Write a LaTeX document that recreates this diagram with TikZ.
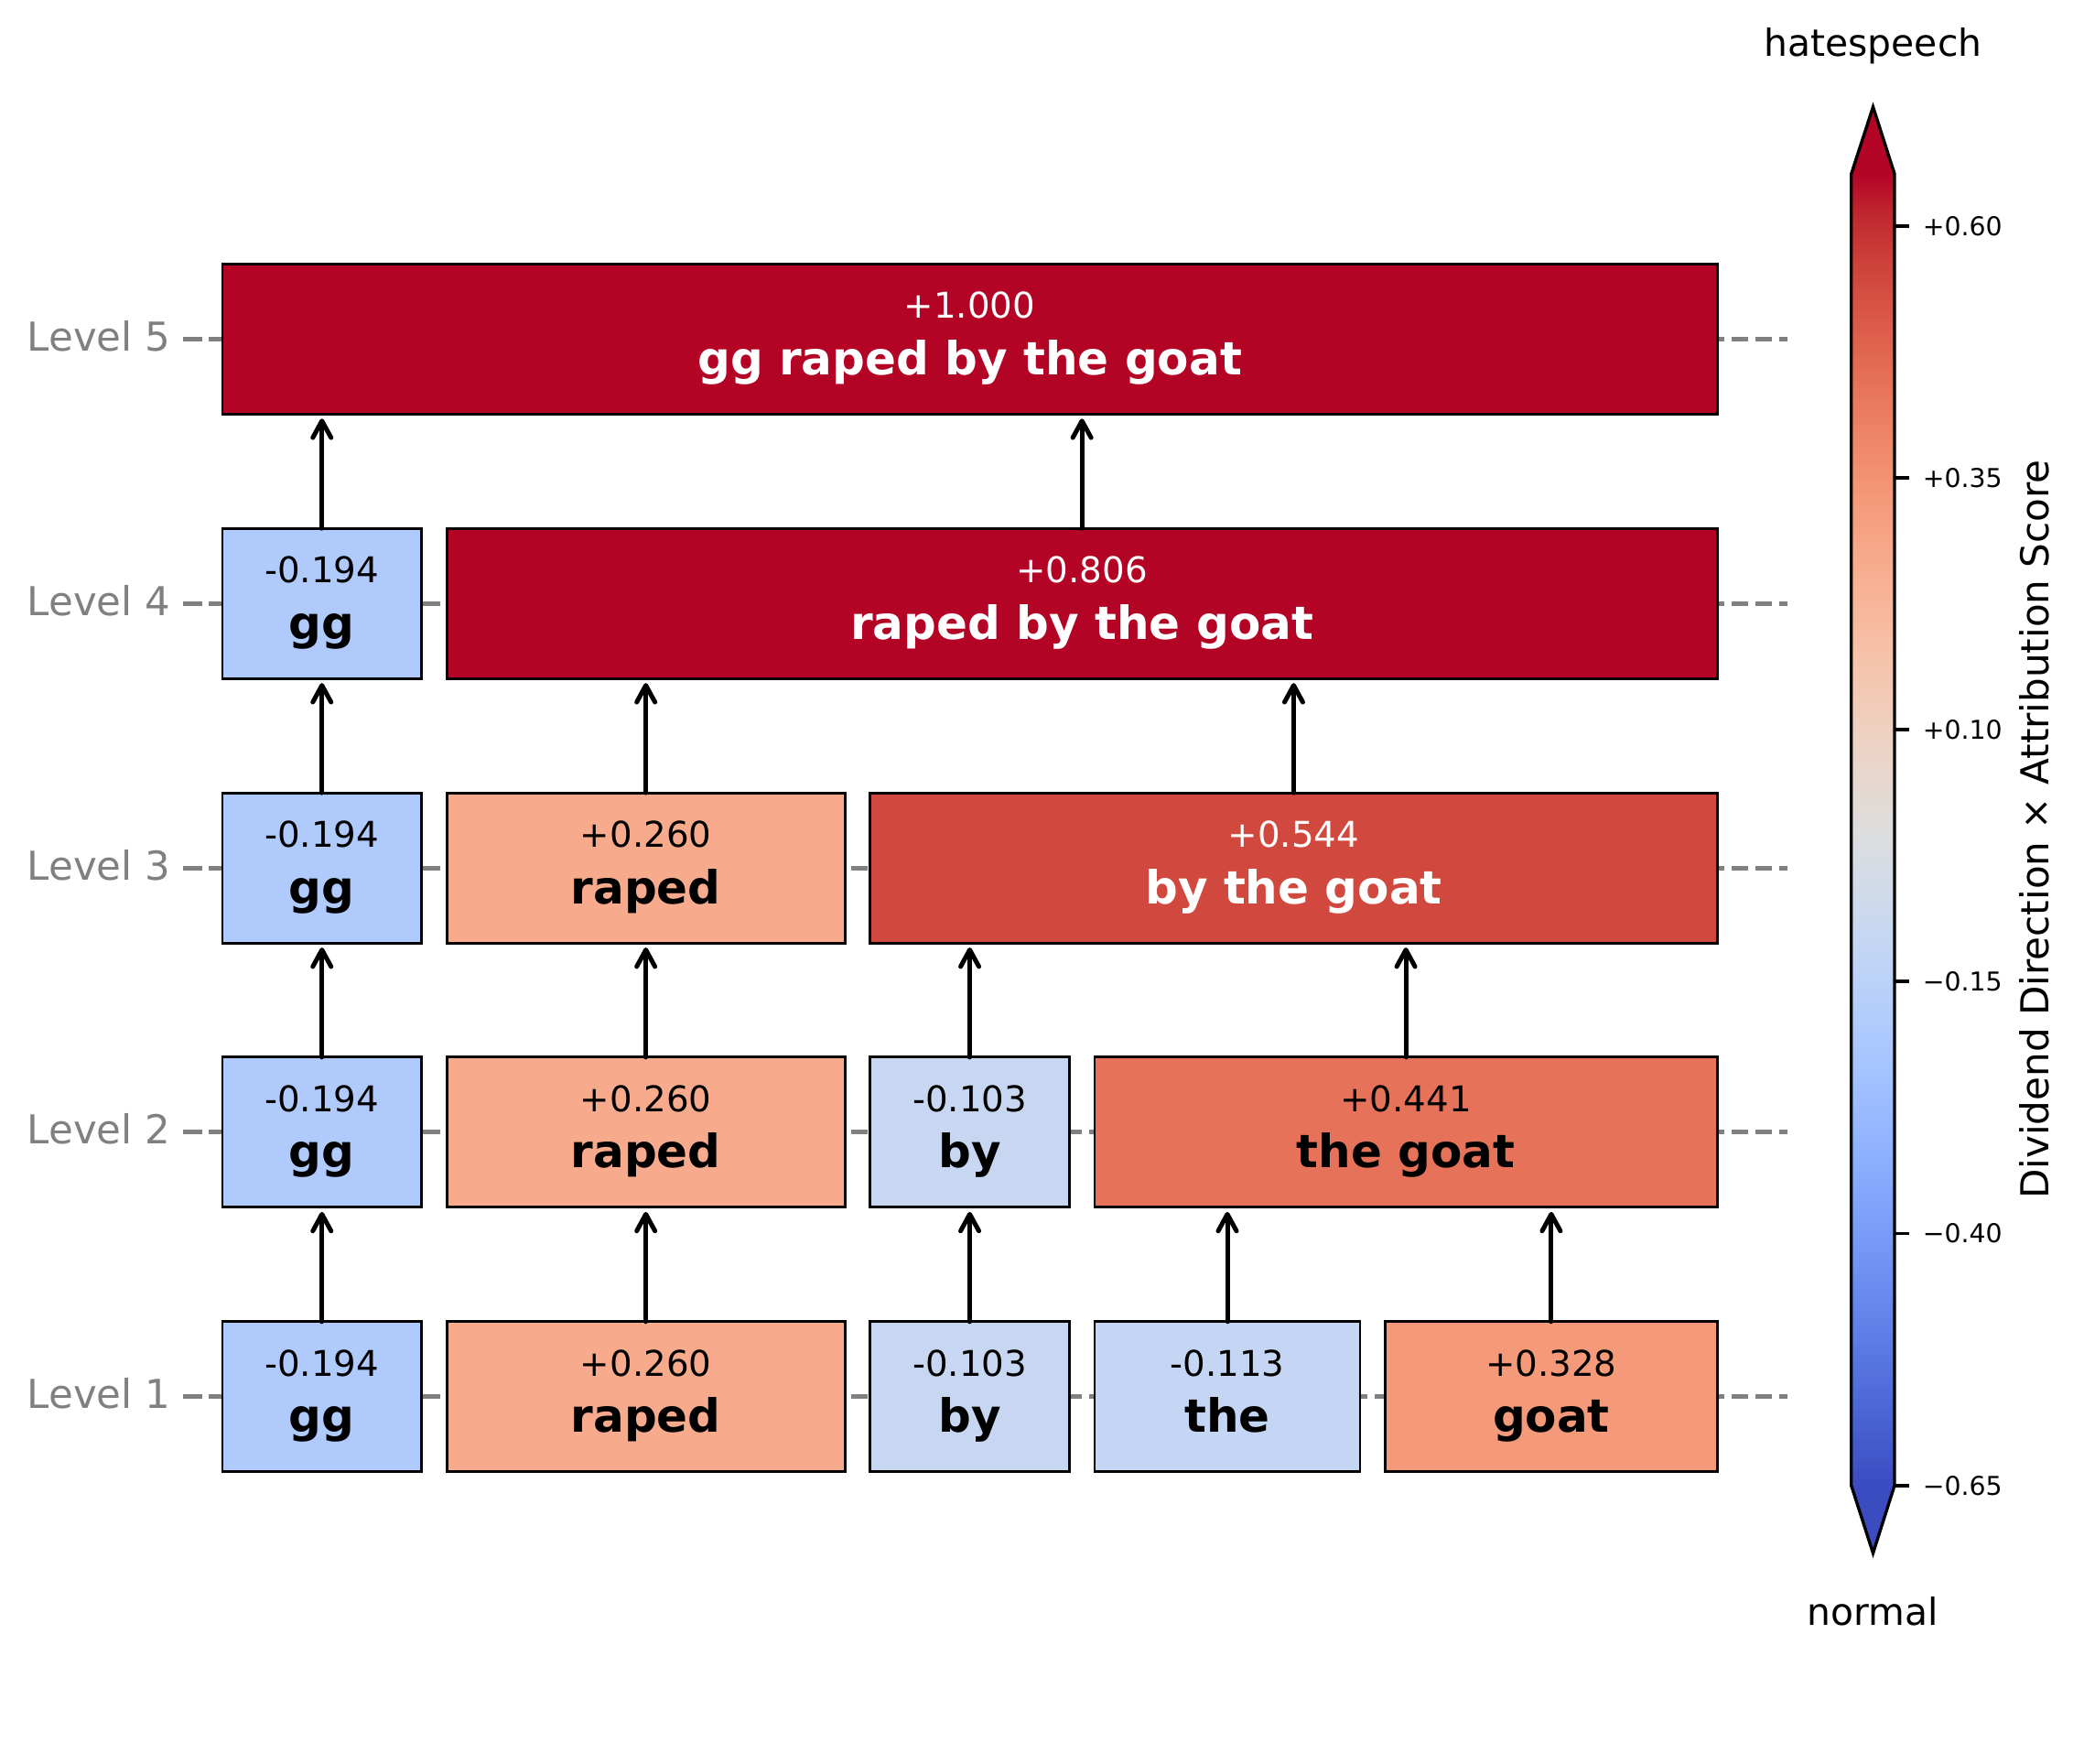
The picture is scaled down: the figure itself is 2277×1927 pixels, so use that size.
\documentclass[tikz,border=0pt]{standalone}
\usepackage{fontspec}
\setmainfont{DejaVu Sans}
\usetikzlibrary{arrows.meta,calc}
\definecolor{cw0}{RGB}{59,76,192}
\definecolor{cw1}{RGB}{68,90,204}
\definecolor{cw2}{RGB}{77,104,215}
\definecolor{cw3}{RGB}{87,117,225}
\definecolor{cw4}{RGB}{98,130,234}
\definecolor{cw5}{RGB}{108,142,241}
\definecolor{cw6}{RGB}{119,154,247}
\definecolor{cw7}{RGB}{130,165,251}
\definecolor{cw8}{RGB}{141,176,254}
\definecolor{cw9}{RGB}{152,185,255}
\definecolor{cw10}{RGB}{163,194,255}
\definecolor{cw11}{RGB}{174,201,253}
\definecolor{cw12}{RGB}{184,208,249}
\definecolor{cw13}{RGB}{194,213,244}
\definecolor{cw14}{RGB}{204,217,238}
\definecolor{cw15}{RGB}{213,219,230}
\definecolor{cw16}{RGB}{221,221,221}
\definecolor{cw17}{RGB}{229,216,209}
\definecolor{cw18}{RGB}{236,211,197}
\definecolor{cw19}{RGB}{241,204,185}
\definecolor{cw20}{RGB}{245,196,173}
\definecolor{cw21}{RGB}{247,187,160}
\definecolor{cw22}{RGB}{247,177,148}
\definecolor{cw23}{RGB}{247,166,135}
\definecolor{cw24}{RGB}{244,154,123}
\definecolor{cw25}{RGB}{241,141,111}
\definecolor{cw26}{RGB}{236,127,99}
\definecolor{cw27}{RGB}{229,112,88}
\definecolor{cw28}{RGB}{222,96,77}
\definecolor{cw29}{RGB}{213,80,66}
\definecolor{cw30}{RGB}{203,62,56}
\definecolor{cw31}{RGB}{192,40,47}
\definecolor{cw32}{RGB}{180,4,38}
\definecolor{cgg}{RGB}{176,202,252}
\definecolor{crp}{RGB}{247,170,140}
\definecolor{cby}{RGB}{199,215,241}
\definecolor{cth}{RGB}{196,214,243}
\definecolor{cgo}{RGB}{244,153,122}
\definecolor{ctg}{RGB}{230,114,90}
\definecolor{cbtg}{RGB}{209,73,62}
\definecolor{cdark}{RGB}{180,4,38}
\pgfdeclareverticalshading{coolwarmbar}{100bp}{color(0bp)=(cw0); color(25bp)=(cw0);
 color(26.5625bp)=(cw1); color(28.125bp)=(cw2); color(29.6875bp)=(cw3); color(31.25bp)=(cw4);
 color(32.8125bp)=(cw5); color(34.375bp)=(cw6); color(35.9375bp)=(cw7); color(37.5bp)=(cw8);
 color(39.0625bp)=(cw9); color(40.625bp)=(cw10); color(42.1875bp)=(cw11); color(43.75bp)=(cw12);
 color(45.3125bp)=(cw13); color(46.875bp)=(cw14); color(48.4375bp)=(cw15); color(50bp)=(cw16);
 color(51.5625bp)=(cw17); color(53.125bp)=(cw18); color(54.6875bp)=(cw19); color(56.25bp)=(cw20);
 color(57.8125bp)=(cw21); color(59.375bp)=(cw22); color(60.9375bp)=(cw23); color(62.5bp)=(cw24);
 color(64.0625bp)=(cw25); color(65.625bp)=(cw26); color(67.1875bp)=(cw27); color(68.75bp)=(cw28);
 color(70.3125bp)=(cw29); color(71.875bp)=(cw30); color(73.4375bp)=(cw31); color(75bp)=(cw32);
 color(100bp)=(cw32)}
\newcommand\tokbox[8]{%
  \node[box, fill=#7, minimum width={((#3)-(#2))*0.24pt}] (#1) at ({((#2)+(#3))/2},#4) {};
  \node[valtxt, text=#8] (#1v) at ([yshift=5.4pt]#1.center) {#5};
  \node[wordtxt, text=#8] (#1w) at ([yshift=-9.36pt]#1.center) {#6};
}
\newcommand\uparr[2]{\draw[arr] (#1.north) -- ($(#1.north |- #2.south)+(0,5)$);}
\newcommand\levelrow[3]{%
  \draw[lvline] (213,#2) -- (1953,#2);
  \draw[lvtick] (200,#2) -- (213,#2);
  \node[lvlab] (#1) at (187,{#2+13}) {#3};
}
\newcommand\cbtick[3]{%
  \draw[cbtickline] (2070,#2) -- (2086,#2);
  \node[cbticklab] (#1) at (2100,#2) {#3};
}
\begin{document}
\begin{tikzpicture}[x=0.24pt,y=-0.24pt,
  box/.style={draw=black, line width=0.7pt, rectangle, inner sep=0pt, outer sep=0pt, minimum height=39.36pt},
  valtxt/.style={inner sep=0pt, anchor=base, font=\fontsize{9.3}{11}\selectfont},
  wordtxt/.style={inner sep=0pt, anchor=base, font=\fontsize{12}{14}\selectfont\bfseries},
  arr/.style={line width=1.2pt, line cap=round, -{Straight Barb[length=4.4pt,width=4.8pt,round]}},
  lvline/.style={gray, line width=1.2pt, dash pattern=on 4.44pt off 1.8pt, dash phase=2.64pt},
  lvtick/.style={gray, line width=1.2pt},
  lvlab/.style={text=gray, inner sep=0pt, anchor=base east, font=\fontsize{10.44}{12}\selectfont},
  cbtickline/.style={black, line width=0.95pt},
  cbticklab/.style={inner sep=0pt, anchor=west, font=\fontsize{6.8}{8}\selectfont},
  cbtext/.style={inner sep=0pt, anchor=base, font=\fontsize{9.8}{12}\selectfont}]
\useasboundingbox (0,0) rectangle (2277,1927);
% level guides
\levelrow{lv5}{370.3}{Level 5}
\levelrow{lv4}{659.2}{Level 4}
\levelrow{lv3}{948.1}{Level 3}
\levelrow{lv2}{1236.9}{Level 2}
\levelrow{lv1}{1525.8}{Level 1}
% level 1
\tokbox{t1gg}{243}{460.5}{1525.8}{-0.194}{gg}{cgg}{black}
\tokbox{t1rp}{488.2}{923.1}{1525.8}{+0.260}{raped}{crp}{black}
\tokbox{t1by}{950.8}{1168.3}{1525.8}{-0.103}{by}{cby}{black}
\tokbox{t1th}{1196}{1486}{1525.8}{-0.113}{the}{cth}{black}
\tokbox{t1go}{1513.7}{1876.1}{1525.8}{+0.328}{goat}{cgo}{black}
% level 2
\tokbox{t2gg}{243}{460.5}{1236.9}{-0.194}{gg}{cgg}{black}
\tokbox{t2rp}{488.2}{923.1}{1236.9}{+0.260}{raped}{crp}{black}
\tokbox{t2by}{950.8}{1168.3}{1236.9}{-0.103}{by}{cby}{black}
\tokbox{t2tg}{1196}{1876.1}{1236.9}{+0.441}{the goat}{ctg}{black}
% level 3
\tokbox{t3gg}{243}{460.5}{948.1}{-0.194}{gg}{cgg}{black}
\tokbox{t3rp}{488.2}{923.1}{948.1}{+0.260}{raped}{crp}{black}
\tokbox{t3btg}{950.8}{1876.1}{948.1}{+0.544}{by the goat}{cbtg}{white}
% level 4
\tokbox{t4gg}{243}{460.5}{659.2}{-0.194}{gg}{cgg}{black}
\tokbox{t4rbtg}{488.2}{1876.1}{659.2}{+0.806}{raped by the goat}{cdark}{white}
% level 5
\tokbox{t5all}{243}{1876.1}{370.3}{+1.000}{gg raped by the goat}{cdark}{white}
% arrows
\uparr{t1gg}{t2gg}
\uparr{t1rp}{t2rp}
\uparr{t1by}{t2by}
\uparr{t1th}{t2tg}
\uparr{t1go}{t2tg}
\uparr{t2gg}{t3gg}
\uparr{t2rp}{t3rp}
\uparr{t2by}{t3btg}
\uparr{t2tg}{t3btg}
\uparr{t3gg}{t4gg}
\uparr{t3rp}{t4rbtg}
\uparr{t3btg}{t4rbtg}
\uparr{t4gg}{t5all}
\uparr{t4rbtg}{t5all}
% colorbar
\fill[cw32] (2022.7,190) -- (2046.5,116.7) -- (2070,190) -- cycle;
\fill[cw0] (2022.7,1622.7) -- (2046.5,1696.7) -- (2070,1622.7) -- cycle;
\shade[shading=coolwarmbar] (2022.7,190) rectangle (2070,1622.7);
\draw[line width=0.8pt, line join=miter] (2022.7,190) -- (2046.5,116.7) -- (2070,190) -- (2070,1622.7) -- (2046.5,1696.7) -- (2022.7,1622.7) -- cycle;
\cbtick{k1}{246.7}{+0.60}
\cbtick{k2}{521.9}{+0.35}
\cbtick{k3}{797.1}{+0.10}
\cbtick{k4}{1072.3}{−0.15}
\cbtick{k5}{1347.5}{−0.40}
\cbtick{k6}{1622.7}{−0.65}
\node[cbtext] (hs) at (2046.5,62) {hatespeech};
\node[cbtext] (nm) at (2046.5,1775) {normal};
\node[cbtext, rotate=90, font=\fontsize{10.1}{12}\selectfont] (cblab) at (2238,906) {Dividend Direction × Attribution Score};
\end{tikzpicture}
\end{document}
